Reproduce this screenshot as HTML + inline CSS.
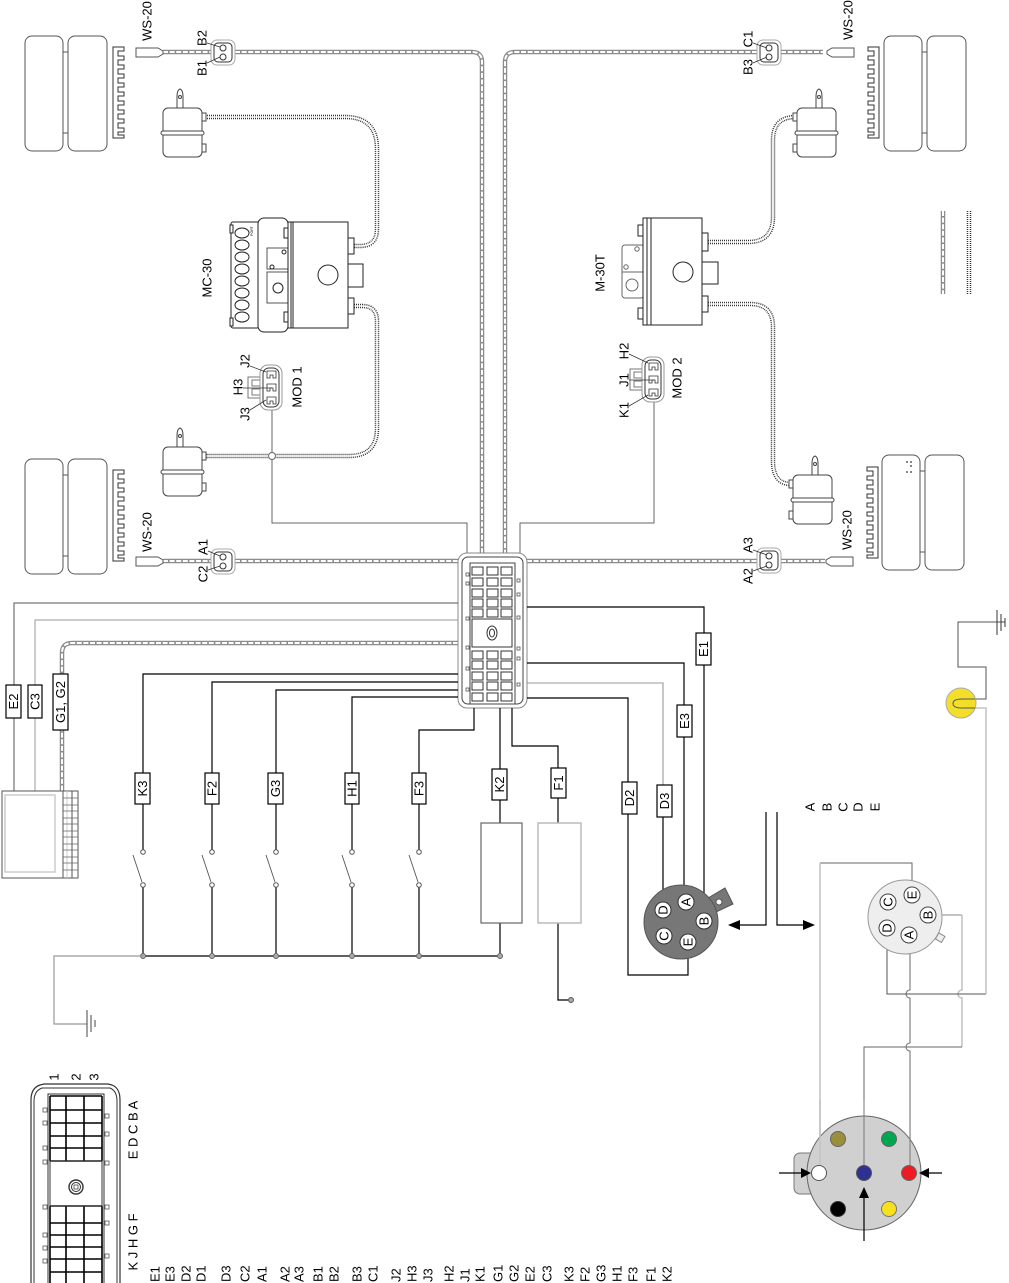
<!DOCTYPE html>
<html><head><meta charset="utf-8">
<style>
html,body{margin:0;padding:0;background:#fff;}
svg{display:block;}
text{font-family:"Liberation Sans",Arial,sans-serif;font-size:13px;fill:#000;}
.s12{font-size:12px;}
.s11{font-size:11px;}
.tw{fill:none;stroke:#8c8c8c;stroke-width:4.5;}
.tw2{fill:none;stroke:#fff;stroke-width:2;stroke-dasharray:5 1.6;}
.dc{fill:none;stroke:#333;stroke-width:4.5;stroke-dasharray:1 1;}
.dc2{fill:none;stroke:#fff;stroke-width:1.6;}
.w{fill:none;stroke:#000;stroke-width:1.2;}
.g{fill:none;stroke:#666;stroke-width:1;}
.gl{fill:none;stroke:#999;stroke-width:1.2;}
.lg{fill:none;stroke:#c4c4c4;stroke-width:1.6;}
.box{fill:#fff;stroke:#000;stroke-width:1.2;}
.cell{fill:#fff;stroke:#333;stroke-width:1;}
.tab{fill:#fff;stroke:#555;stroke-width:0.8;}
</style></head><body>
<svg width="1009" height="1283" viewBox="0 0 1009 1283" xmlns="http://www.w3.org/2000/svg">
<defs>
<g id="tire">
<rect x="0" y="0" width="38" height="115" rx="7" fill="#fff" stroke="#555"/>
<rect x="43" y="0" width="39" height="115" rx="7" fill="#fff" stroke="#555"/>
<path d="M38,16 H43 M38,97 H43" stroke="#555"/>
</g>
<g id="comb">
<path d="M0,91 V0 H11 V4 H5 V9 H11 V13 H5 V18 H11 V22 H5 V27 H11 V31 H5 V36 H11 V40 H5 V45 H11 V49 H5 V54 H11 V58 H5 V63 H11 V67 H5 V72 H11 V76 H5 V81 H11 V85 H5 V88 H11 V91 Z" fill="#fff" stroke="#333" stroke-width="1"/>
</g>
<g id="act">
<path d="M14,20 V8 Q14,1 17,0 Q20,1 20,8 V20" fill="#fff" stroke="#444"/>
<circle cx="17" cy="8" r="1.5" fill="none" stroke="#444"/>
<rect x="0" y="19" width="39" height="49" rx="5" fill="#fff" stroke="#444"/>
<rect x="-2" y="42" width="43" height="4" rx="2" fill="#fff" stroke="#444"/>
<rect x="39" y="24" width="4" height="8" fill="#fff" stroke="#444"/>
<rect x="39" y="55" width="4" height="8" fill="#fff" stroke="#444"/>
</g>
<g id="sens"><path d="M0,0 H22 L27,3 V6 L22,9 H0 Z" fill="#fff" stroke="#555"/></g>
<g id="c2">
<rect x="0" y="0" width="24" height="25" rx="6" fill="#fff" stroke="#aaa"/>
<rect x="3" y="3" width="18" height="19" rx="4" fill="none" stroke="#333"/>
<circle cx="12" cy="8" r="3" fill="#fff" stroke="#333"/>
<circle cx="12" cy="17" r="3" fill="#fff" stroke="#333"/>
</g>
<g id="mod">
<rect x="-12" y="12" width="12" height="21" fill="#fff" stroke="#777"/>
<rect x="-8" y="15" width="8" height="6" fill="none" stroke="#777"/>
<rect x="-8" y="24" width="8" height="6" fill="none" stroke="#777"/>
<rect x="0" y="0" width="22" height="45" rx="8" fill="#fff" stroke="#999"/>
<rect x="3" y="3" width="16" height="39" rx="6" fill="none" stroke="#333"/>
<path d="M7,6 h9 v7 h-3 v-3 h-3 v3 h-3 z M7,19 h9 v7 h-3 v-3 h-3 v3 h-3 z M7,32 h9 v7 h-3 v-3 h-3 v3 h-3 z" fill="#fff" stroke="#333" stroke-width="0.8"/>
</g>
</defs>

<!-- tires & combs -->
<use href="#tire" transform="translate(25,36)"/>
<use href="#tire" transform="translate(25,459)"/>
<use href="#tire" transform="translate(884,36)"/>
<use href="#tire" transform="translate(882,455)"/>
<use href="#comb" transform="translate(113,47)"/>
<use href="#comb" transform="translate(113,470)"/>
<use href="#comb" transform="translate(879,47) scale(-1,1)"/>
<use href="#comb" transform="translate(878,467) scale(-1,1)"/>
<g fill="#333"><circle cx="907" cy="462" r="0.9"/><circle cx="911" cy="462" r="0.9"/><circle cx="911" cy="466" r="0.9"/><circle cx="907" cy="472" r="0.9"/><circle cx="911" cy="472" r="0.9"/></g>

<!-- twisted cables -->
<g>
<path class="tw" d="M163,52 H211"/><path class="tw2" d="M163,52 H211"/>
<path class="tw" d="M235,52 H472 Q482,52 482,62 V553"/><path class="tw2" d="M235,52 H472 Q482,52 482,62 V553"/>
<path class="tw" d="M757,52 H515 Q505,52 505,62 V553"/><path class="tw2" d="M757,52 H515 Q505,52 505,62 V553"/>
<path class="tw" d="M781,52 H823"/><path class="tw2" d="M781,52 H823"/>
<path class="tw" d="M163,561 H211"/><path class="tw2" d="M163,561 H211"/>
<path class="tw" d="M235,561 H458"/><path class="tw2" d="M235,561 H458"/>
<path class="tw" d="M527,561 H757"/><path class="tw2" d="M527,561 H757"/>
<path class="tw" d="M781,561 H825"/><path class="tw2" d="M781,561 H825"/>
<path class="tw" d="M458,643 H72 Q62,643 62,653 V791"/><path class="tw2" d="M458,643 H72 Q62,643 62,653 V791"/>
<path class="tw" d="M943,211 V294"/><path class="tw2" d="M943,211 V294"/>
</g>

<!-- dotted cables -->
<g>
<path class="dc" d="M205,117 H345 Q377,117 377,149 V229 Q377,246 360,246 H354"/><path class="dc2" d="M205,117 H345 Q377,117 377,149 V229 Q377,246 360,246 H354"/>
<path class="dc" d="M354,306 H362 Q377,306 377,321 V428 Q377,456 349,456 H205"/><path class="dc2" d="M354,306 H362 Q377,306 377,321 V428 Q377,456 349,456 H205"/>
<path class="dc" d="M708,242 H748 Q773,242 773,217 V140 Q773,117 796,117"/><path class="dc2" d="M708,242 H748 Q773,242 773,217 V140 Q773,117 796,117"/>
<path class="dc" d="M708,304 H750 Q773,304 773,327 V461 Q773,484 791,484"/><path class="dc2" d="M708,304 H750 Q773,304 773,327 V461 Q773,484 791,484"/>
<path class="dc" d="M969,211 V294"/><path class="dc2" d="M969,211 V294"/>
</g>

<!-- actuators, sensors, connectors -->
<use href="#act" transform="translate(163,89)"/>
<use href="#act" transform="translate(163,428)"/>
<use href="#act" transform="translate(836,89) scale(-1,1)"/>
<use href="#act" transform="translate(832,456) scale(-1,1)"/>
<use href="#sens" transform="translate(136,48)"/>
<use href="#sens" transform="translate(136,557)"/>
<use href="#sens" transform="translate(854,48) scale(-1,1)"/>
<use href="#sens" transform="translate(853,557) scale(-1,1)"/>
<use href="#c2" transform="translate(211,40)"/>
<use href="#c2" transform="translate(757,40)"/>
<use href="#c2" transform="translate(211,549)"/>
<use href="#c2" transform="translate(757,548)"/>
<g stroke="#333" stroke-width="0.8">
<path d="M207,43 L220,47 M207,63 L220,57"/>
<path d="M753,43 L767,48 M753,63 L767,57"/>
<path d="M208,551 L220,556 M208,570 L220,566"/>
<path d="M753,550 L767,555 M753,571 L767,566"/>
</g>

<!-- MC-30 -->
<g stroke="#222" fill="#fff" stroke-width="1">
<rect x="231" y="222" width="28" height="106" rx="2"/>
<rect x="230" y="225" width="3" height="8"/><rect x="230" y="318" width="3" height="8"/>
<g fill="none">
<ellipse cx="242" cy="233" rx="7" ry="5"/><ellipse cx="242" cy="245" rx="7" ry="5"/><ellipse cx="242" cy="257" rx="7" ry="5"/><ellipse cx="242" cy="269" rx="7" ry="5"/><ellipse cx="242" cy="281" rx="7" ry="5"/><ellipse cx="242" cy="293" rx="7" ry="5"/><ellipse cx="242" cy="305" rx="7" ry="5"/><ellipse cx="242" cy="317" rx="7" ry="5"/>
</g>
<rect x="258" y="218" width="30" height="114" rx="6"/>
<rect x="267" y="248" width="21" height="21" stroke="#555"/>
<circle cx="284" cy="252" r="2" fill="none"/><circle cx="272" cy="267" r="2" fill="none"/>
<rect x="267" y="272" width="21" height="31" stroke="#555"/>
<circle cx="278" cy="288" r="5" fill="none"/>
<rect x="284" y="228" width="4" height="10"/><rect x="284" y="312" width="4" height="10"/>
<rect x="288" y="222" width="60" height="106"/>
<path d="M291,222 V328 M293,222 V328" fill="none"/>
<circle cx="328" cy="275" r="10"/>
<rect x="348" y="238" width="6" height="16"/>
<rect x="348" y="298" width="6" height="16"/>
<rect x="348" y="264" width="15" height="23"/>
</g>
<text x="253" y="231" style="font-size:3.5px" transform="rotate(-90 253 231)" text-anchor="middle">PORT</text>

<!-- M-30T -->
<g stroke="#222" fill="#fff" stroke-width="1">
<rect x="622" y="245" width="22" height="53" rx="3" stroke="#666"/>
<path d="M622,272 H644" stroke="#666"/>
<circle cx="637" cy="249" r="2.2" fill="none" stroke="#666"/>
<circle cx="626" cy="267" r="2.2" fill="none" stroke="#666"/>
<circle cx="632" cy="285" r="6" fill="none" stroke="#666"/>
<rect x="638" y="225" width="5" height="11"/><rect x="638" y="308" width="5" height="11"/>
<rect x="643" y="218" width="59" height="107"/>
<path d="M647,218 V325 M651,218 V325" fill="none"/>
<circle cx="683" cy="272" r="10"/>
<rect x="702" y="233" width="6" height="18"/>
<rect x="702" y="296" width="6" height="16"/>
<rect x="702" y="262" width="16" height="22"/>
</g>

<!-- MOD connectors & wires -->
<path class="g" d="M272,410 V523 H467 V553" stroke="#555"/>
<path class="g" d="M654,402 V523 H520 V553" stroke="#555"/>
<circle cx="272" cy="456" r="3.5" fill="#fff" stroke="#666"/>
<use href="#mod" transform="translate(260,365)"/>
<use href="#mod" transform="translate(642,357)"/>
<g stroke="#333" stroke-width="0.8">
<path d="M250,366 L266,372 M243,388 H272 M250,410 L266,400"/>
<path d="M629,354 L648,363 M629,380 H654 M629,406 L648,395"/>
</g>

<!-- ECU -->
<rect x="458" y="553" width="69" height="155" rx="9" fill="#fff" stroke="#888"/>
<rect x="462" y="557" width="61" height="147" rx="6" fill="none" stroke="#444"/>
<rect x="470" y="563" width="45" height="141" fill="none" stroke="#444"/>
<g class="cell">
<rect x="472" y="567" width="11" height="8"/><rect x="487" y="567" width="11" height="8"/><rect x="501" y="567" width="11" height="8"/>
<rect x="472" y="578" width="11" height="8"/><rect x="487" y="578" width="11" height="8"/><rect x="501" y="578" width="11" height="8"/>
<rect x="472" y="589" width="11" height="8"/><rect x="487" y="589" width="11" height="8"/><rect x="501" y="589" width="11" height="8"/>
<rect x="472" y="599" width="11" height="8"/><rect x="487" y="599" width="11" height="8"/><rect x="501" y="599" width="11" height="8"/>
<rect x="472" y="609" width="11" height="8"/><rect x="487" y="609" width="11" height="8"/><rect x="501" y="609" width="11" height="8"/>
<rect x="472" y="651" width="11" height="8"/><rect x="487" y="651" width="11" height="8"/><rect x="501" y="651" width="11" height="8"/>
<rect x="472" y="661" width="11" height="8"/><rect x="487" y="661" width="11" height="8"/><rect x="501" y="661" width="11" height="8"/>
<rect x="472" y="672" width="11" height="8"/><rect x="487" y="672" width="11" height="8"/><rect x="501" y="672" width="11" height="8"/>
<rect x="472" y="682" width="11" height="8"/><rect x="487" y="682" width="11" height="8"/><rect x="501" y="682" width="11" height="8"/>
<rect x="472" y="693" width="11" height="8"/><rect x="487" y="693" width="11" height="8"/><rect x="501" y="693" width="11" height="8"/>
<rect x="472" y="619" width="40" height="28"/>
</g>
<ellipse cx="492" cy="633" rx="5" ry="7" fill="none" stroke="#333"/>
<ellipse cx="492" cy="633" rx="2.5" ry="4" fill="none" stroke="#333"/>
<g class="tab">
<rect x="466" y="573" width="3" height="3"/><rect x="466" y="582" width="3" height="3"/><rect x="466" y="617" width="3" height="3"/><rect x="466" y="646" width="3" height="3"/><rect x="466" y="667" width="3" height="3"/><rect x="466" y="688" width="3" height="3"/>
<rect x="517" y="579" width="3" height="3"/><rect x="517" y="593" width="3" height="3"/><rect x="517" y="616" width="3" height="3"/><rect x="517" y="647" width="3" height="3"/><rect x="517" y="657" width="3" height="3"/><rect x="517" y="683" width="3" height="3"/>
</g>

<!-- left wires -->
<path d="M458,603 H14 V791" fill="none" stroke="#555" stroke-width="1"/>
<path d="M458,620 H35 V791" fill="none" stroke="#999" stroke-width="1"/>
<path class="w" d="M458,674 H143 V773"/>
<path class="w" d="M458,682 H212 V773"/>
<path class="w" d="M458,690 H276 V773"/>
<path class="w" d="M458,697 H352 V773"/>
<path class="w" d="M474,708 V730 H419 V773"/>
<path class="w" d="M500,708 V769"/>
<path class="w" d="M512,708 V746 H558 V768"/>

<!-- display -->
<rect x="2" y="791" width="76" height="87" fill="#fff" stroke="#555"/>
<rect x="5" y="795" width="50" height="77" fill="none" stroke="#ccc" stroke-width="1.5"/>
<path d="M63,791 V878 M72,791 V878" stroke="#555" fill="none"/>
<path d="M67,791 V878" stroke="#ccc" fill="none"/>
<path d="M63,798 H78 M63,805 H78 M63,811 H78 M63,818 H78 M63,824 H78 M63,831 H78 M63,837 H78 M63,844 H78 M63,850 H78 M63,857 H78 M63,863 H78 M63,870 H78" stroke="#666" stroke-width="0.8" fill="none"/>

<!-- switches & bus -->
<g class="w">
<path d="M143,804 V850 M143,885 V956"/>
<path d="M212,804 V850 M212,885 V956"/>
<path d="M276,804 V850 M276,885 V956"/>
<path d="M352,804 V850 M352,885 V956"/>
<path d="M419,804 V850 M419,885 V956"/>
<path d="M500,800 V823 M500,923 V956"/>
<path d="M558,798 V823 M558,923 V1000 H568"/>
<path d="M143,956 H500"/>
</g>
<g stroke="#555" stroke-width="0.9" fill="none">
<path d="M133,855 L142,882 M202,855 L211,882 M266,855 L275,882 M342,855 L351,882 M409,855 L418,882"/>
</g>
<g fill="#fff" stroke="#555">
<circle cx="143" cy="852" r="2.3"/><circle cx="143" cy="885" r="2.3"/>
<circle cx="212" cy="852" r="2.3"/><circle cx="212" cy="885" r="2.3"/>
<circle cx="276" cy="852" r="2.3"/><circle cx="276" cy="885" r="2.3"/>
<circle cx="352" cy="852" r="2.3"/><circle cx="352" cy="885" r="2.3"/>
<circle cx="419" cy="852" r="2.3"/><circle cx="419" cy="885" r="2.3"/>
<circle cx="571" cy="1000" r="2.5" fill="#aaa"/>
</g>
<g fill="#aaa" stroke="#666">
<circle cx="143" cy="956" r="2.5"/><circle cx="212" cy="956" r="2.5"/><circle cx="276" cy="956" r="2.5"/><circle cx="352" cy="956" r="2.5"/><circle cx="419" cy="956" r="2.5"/><circle cx="500" cy="956" r="2.5"/>
</g>
<path d="M143,956 H54 V1024 H87" fill="none" stroke="#999" stroke-width="1.2"/>
<path d="M87,1010 V1037 M91,1015 V1032 M95,1020 V1027" stroke="#444" stroke-width="1"/>
<rect x="481" y="823" width="41" height="100" fill="#fff" stroke="#666" stroke-width="1.2"/>
<rect x="538" y="823" width="43" height="100" fill="#fff" stroke="#bbb" stroke-width="1.5"/>

<!-- right wires -->
<path class="w" d="M527,607 H704 V913"/>
<path class="w" d="M527,663 H684 V894"/>
<path d="M527,683 H663 V785" fill="none" stroke="#999" stroke-width="1.1"/>
<path class="w" d="M663,817 V902"/>
<path class="w" d="M527,698 H628 V975 H688 V950"/>

<!-- label boxes -->
<g class="box">
<rect x="6" y="685" width="15" height="33"/>
<rect x="28" y="685" width="14" height="33"/>
<rect x="53" y="674" width="15" height="56"/>
<rect x="135" y="773" width="15" height="31"/>
<rect x="205" y="773" width="14" height="31"/>
<rect x="268" y="773" width="15" height="31"/>
<rect x="345" y="773" width="14" height="31"/>
<rect x="412" y="773" width="14" height="31"/>
<rect x="492" y="769" width="15" height="31"/>
<rect x="551" y="768" width="15" height="30"/>
<rect x="696" y="633" width="15" height="32"/>
<rect x="677" y="705" width="15" height="32"/>
<rect x="657" y="785" width="15" height="32"/>
<rect x="622" y="782" width="15" height="32"/>
</g>
<g class="s12" text-anchor="middle" dominant-baseline="central">
<text transform="translate(13.5,701.5) rotate(-90)">E2</text>
<text transform="translate(35,701.5) rotate(-90)">C3</text>
<text transform="translate(60.5,702) rotate(-90)">G1, G2</text>
<text transform="translate(142.5,788.5) rotate(-90)">K3</text>
<text transform="translate(212,788.5) rotate(-90)">F2</text>
<text transform="translate(275.5,788.5) rotate(-90)">G3</text>
<text transform="translate(352,788.5) rotate(-90)">H1</text>
<text transform="translate(419,788.5) rotate(-90)">F3</text>
<text transform="translate(499.5,784.5) rotate(-90)">K2</text>
<text transform="translate(558.5,783) rotate(-90)">F1</text>
<text transform="translate(703.5,649) rotate(-90)">E1</text>
<text transform="translate(684.5,721) rotate(-90)">E3</text>
<text transform="translate(664.5,801) rotate(-90)">D3</text>
<text transform="translate(629.5,798) rotate(-90)">D2</text>
</g>

<!-- dark connector -->
<polygon points="708,898 725,888 733,904 714,913" fill="#777" stroke="#555"/>
<circle cx="719" cy="902" r="3" fill="#fff" stroke="#555"/>
<circle cx="681" cy="922" r="37" fill="#777" stroke="#555"/>
<g fill="#fff" stroke="#333">
<circle cx="663" cy="910" r="8"/><circle cx="686" cy="902" r="8"/><circle cx="704" cy="921" r="8"/><circle cx="664" cy="936" r="8"/><circle cx="688" cy="942" r="8"/>
</g>
<g class="s11" text-anchor="middle" dominant-baseline="central">
<text transform="translate(663,910) rotate(-90)">D</text>
<text transform="translate(686,902) rotate(-90)">A</text>
<text transform="translate(704,921) rotate(-90)">B</text>
<text transform="translate(664,936) rotate(-90)">C</text>
<text transform="translate(688,942) rotate(-90)">E</text>
</g>

<!-- arrows -->
<path class="w" d="M766,812 V925 H737"/>
<polygon points="728,925 740,920 740,930" fill="#000"/>
<path class="w" d="M777,812 V925 H806"/>
<polygon points="815,925 803,920 803,930" fill="#000"/>
<g class="s12" text-anchor="middle" dominant-baseline="central">
<text transform="translate(810,807) rotate(-90)">A</text>
<text transform="translate(827,807) rotate(-90)">B</text>
<text transform="translate(843,807) rotate(-90)">C</text>
<text transform="translate(858,807) rotate(-90)">D</text>
<text transform="translate(875,807) rotate(-90)">E</text>
</g>

<!-- light connector wiring -->
<path d="M912,887 V863 H820" fill="none" stroke="#666" stroke-width="1"/>
<path class="lg" d="M820,863 V1165"/>
<path d="M936,915 H962" fill="none" stroke="#888" stroke-width="1"/>
<path class="lg" d="M962,915 V990 A4,4 0 0 0 962,998 V1047"/>
<path d="M962,1047 H864 V1165" fill="none" stroke="#666" stroke-width="1"/>
<path d="M910,943 V990 A4,4 0 0 0 910,998 V1043 A4,4 0 0 0 910,1051 V1165" fill="none" stroke="#777" stroke-width="1.1"/>
<path d="M887,936 V994 H986" fill="none" stroke="#555" stroke-width="1"/>
<path class="lg" d="M986,994 V708 H975"/>
<path d="M975,699 H986 V667 H958 V622 H1005" fill="none" stroke="#555" stroke-width="1"/>
<path d="M997,610 V635 M1001,614 V631 M1005,618 V627" stroke="#333" stroke-width="1"/>
<circle cx="961" cy="703" r="15" fill="#f3df2a" stroke="#aaa"/>
<path d="M975,699 H962 Q953,699 953,703.5 Q953,708 962,708 H975" fill="none" stroke="#555" stroke-width="1"/>

<!-- light connector -->
<rect x="937" y="934" width="7" height="7" fill="#eee" stroke="#888" transform="rotate(30 940 937)"/>
<circle cx="905" cy="917" r="37" fill="#eee" stroke="#999"/>
<g fill="#fff" stroke="#444">
<circle cx="888" cy="902" r="8"/><circle cx="912" cy="895" r="8"/><circle cx="928" cy="915" r="8"/><circle cx="887" cy="928" r="8"/><circle cx="909" cy="935" r="8"/>
</g>
<g class="s11" text-anchor="middle" dominant-baseline="central">
<text transform="translate(888,902) rotate(-90)">C</text>
<text transform="translate(912,895) rotate(-90)">E</text>
<text transform="translate(928,915) rotate(-90)">B</text>
<text transform="translate(887,928) rotate(-90)">D</text>
<text transform="translate(909,935) rotate(-90)">A</text>
</g>

<!-- 7-pin connector -->
<rect x="794" y="1153" width="24" height="41" rx="6" fill="#d0d0d0" stroke="#777"/>
<circle cx="864" cy="1173" r="57" fill="#d0d0d0" stroke="#666"/>
<path class="lg" d="M820,1100 V1165"/>
<path d="M864,1100 V1165 M910,1100 V1165" stroke="#777" fill="none"/>
<circle cx="838" cy="1139" r="7.5" fill="#9a8f3a" stroke="#666"/>
<circle cx="889" cy="1139" r="7.5" fill="#00a651" stroke="#666"/>
<circle cx="819" cy="1173" r="7.5" fill="#fff" stroke="#555"/>
<circle cx="864" cy="1173" r="7.5" fill="#2e3192" stroke="#555"/>
<circle cx="909" cy="1173" r="7.5" fill="#ed1c24" stroke="#666"/>
<circle cx="838" cy="1209" r="7.5" fill="#000" stroke="#333"/>
<circle cx="889" cy="1209" r="7.5" fill="#f7e11e" stroke="#777"/>
<path class="w" d="M779,1173 H804 M942,1173 H926 M864,1241 V1195"/>
<polygon points="811,1173 801,1168 801,1178" fill="#000"/>
<polygon points="919,1173 929,1168 929,1178" fill="#000"/>
<polygon points="864,1187 859,1198 869,1198" fill="#000"/>

<!-- bottom-left connector -->
<path d="M31,1283 V1100 Q31,1088 40,1085 L44,1084 H108 L112,1085 Q120,1088 120,1100 V1283" fill="#fff" stroke="#333" stroke-width="1.2"/>
<path d="M34,1283 V1101 Q34,1091 42,1088 H110 Q117,1091 117,1101 V1283" fill="none" stroke="#333"/>
<rect x="48" y="1094" width="56" height="190" fill="none" stroke="#333"/>
<path d="M50,1096 H102 M50,1110 H102 M50,1123 H102 M50,1136 H102 M50,1148 H102 M50,1161 H102 M50,1096 V1161 M66,1096 V1161 M84,1096 V1161 M102,1096 V1161" stroke="#000" stroke-width="1.6" fill="none"/>
<path d="M50,1206 H102 M50,1223 H102 M50,1235 H102 M50,1247 H102 M50,1259 H102 M50,1272 H102 M50,1206 V1283 M66,1206 V1283 M84,1206 V1283 M102,1206 V1283" stroke="#000" stroke-width="1.6" fill="none"/>
<rect x="50" y="1161" width="52" height="45" fill="none" stroke="#333"/>
<circle cx="76" cy="1187" r="7" fill="none" stroke="#333" stroke-width="1.4"/>
<circle cx="76" cy="1187" r="4.5" fill="none" stroke="#333"/>
<rect x="74" y="1185" width="4" height="4" fill="none" stroke="#333" stroke-width="0.7"/>
<g class="tab">
<rect x="43" y="1108" width="4" height="4"/><rect x="43" y="1121" width="4" height="4"/><rect x="43" y="1146" width="4" height="4"/><rect x="43" y="1160" width="4" height="4"/><rect x="43" y="1205" width="4" height="4"/><rect x="43" y="1233" width="4" height="4"/><rect x="43" y="1246" width="4" height="4"/><rect x="43" y="1259" width="4" height="4"/>
<rect x="105" y="1114" width="4" height="4"/><rect x="105" y="1132" width="4" height="4"/><rect x="105" y="1161" width="4" height="4"/><rect x="105" y="1205" width="4" height="4"/><rect x="105" y="1221" width="4" height="4"/><rect x="105" y="1254" width="4" height="4"/>
</g>
<g class="s12" text-anchor="middle" dominant-baseline="central">
<text transform="translate(54,1077) rotate(-90)">1</text>
<text transform="translate(76,1077) rotate(-90)">2</text>
<text transform="translate(94,1077) rotate(-90)">3</text>
<text transform="translate(133,1130) rotate(-90)">E D C B A</text>
<text transform="translate(133,1242) rotate(-90)">K J H G F</text>
</g>

<!-- component labels -->
<g text-anchor="middle" dominant-baseline="central">
<text transform="translate(147,21) rotate(-90)">WS-20</text>
<text transform="translate(848,20) rotate(-90)">WS-20</text>
<text transform="translate(147,532) rotate(-90)">WS-20</text>
<text transform="translate(847,530) rotate(-90)">WS-20</text>
<text transform="translate(207,278) rotate(-90)">MC-30</text>
<text transform="translate(600,273) rotate(-90)">M-30T</text>
<text transform="translate(297,387) rotate(-90)">MOD 1</text>
<text transform="translate(677,378) rotate(-90)">MOD 2</text>
</g>
<g class="s12" text-anchor="middle" dominant-baseline="central">
<text transform="translate(202,38) rotate(-90)">B2</text>
<text transform="translate(202,68) rotate(-90)">B1</text>
<text transform="translate(748,39) rotate(-90)">C1</text>
<text transform="translate(748,67) rotate(-90)">B3</text>
<text transform="translate(245,361) rotate(-90)">J2</text>
<text transform="translate(238,387) rotate(-90)">H3</text>
<text transform="translate(245,414) rotate(-90)">J3</text>
<text transform="translate(624,351) rotate(-90)">H2</text>
<text transform="translate(624,380) rotate(-90)">J1</text>
<text transform="translate(624,410) rotate(-90)">K1</text>
<text transform="translate(203,547) rotate(-90)">A1</text>
<text transform="translate(203,574) rotate(-90)">C2</text>
<text transform="translate(748,545) rotate(-90)">A3</text>
<text transform="translate(748,576) rotate(-90)">A2</text>
</g>

<!-- bottom list -->
<g class="s12" text-anchor="start" dominant-baseline="central">
<text transform="translate(155,1282) rotate(-90)">E1</text>
<text transform="translate(170,1282) rotate(-90)">E3</text>
<text transform="translate(186,1282) rotate(-90)">D2</text>
<text transform="translate(201,1282) rotate(-90)">D1</text>
<text transform="translate(226,1282) rotate(-90)">D3</text>
<text transform="translate(245,1282) rotate(-90)">C2</text>
<text transform="translate(262,1282) rotate(-90)">A1</text>
<text transform="translate(285,1282) rotate(-90)">A2</text>
<text transform="translate(299,1282) rotate(-90)">A3</text>
<text transform="translate(318,1282) rotate(-90)">B1</text>
<text transform="translate(334,1282) rotate(-90)">B2</text>
<text transform="translate(357,1282) rotate(-90)">B3</text>
<text transform="translate(373,1282) rotate(-90)">C1</text>
<text transform="translate(396,1282) rotate(-90)">J2</text>
<text transform="translate(412,1282) rotate(-90)">H3</text>
<text transform="translate(428,1282) rotate(-90)">J3</text>
<text transform="translate(449,1282) rotate(-90)">H2</text>
<text transform="translate(465,1282) rotate(-90)">J1</text>
<text transform="translate(480,1282) rotate(-90)">K1</text>
<text transform="translate(498,1282) rotate(-90)">G1</text>
<text transform="translate(514,1282) rotate(-90)">G2</text>
<text transform="translate(530,1282) rotate(-90)">E2</text>
<text transform="translate(547,1282) rotate(-90)">C3</text>
<text transform="translate(569,1282) rotate(-90)">K3</text>
<text transform="translate(585,1282) rotate(-90)">F2</text>
<text transform="translate(601,1282) rotate(-90)">G3</text>
<text transform="translate(617,1282) rotate(-90)">H1</text>
<text transform="translate(633,1282) rotate(-90)">F3</text>
<text transform="translate(651,1282) rotate(-90)">F1</text>
<text transform="translate(667,1282) rotate(-90)">K2</text>
</g>
</svg>
</body></html>
